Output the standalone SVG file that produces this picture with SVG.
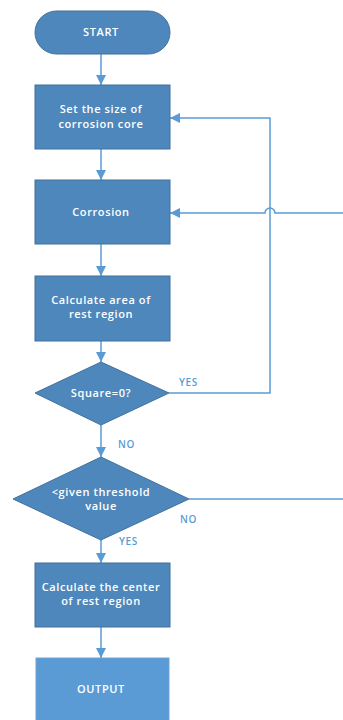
<svg xmlns="http://www.w3.org/2000/svg" width="343" height="720" viewBox="0 0 343 720">
<defs>
<marker id="arr" viewBox="0 0 10 10" refX="10" refY="5" markerWidth="10" markerHeight="10" markerUnits="userSpaceOnUse" orient="auto">
<path d="M0,0 L10,5 L0,10 z" fill="#5B9BD5"/>
</marker>
</defs>
<style>
.n{fill:#4E87BC;stroke:#41719C;stroke-width:1}
.o{fill:#5B9BD5;stroke:#6FA5D8;stroke-width:1}
.t{fill:#fff;font-family:"Open Sans","Noto Sans",sans-serif;font-size:11px;font-weight:600;letter-spacing:0.6px;text-anchor:middle}
.l{fill:#5B9BD5;font-family:"Open Sans","Noto Sans",sans-serif;font-size:10px;font-weight:600;letter-spacing:0.6px}
.c{fill:none;stroke:#5B9BD5;stroke-width:1.5}
</style>
<rect width="343" height="720" fill="#fff"/>
<g id="connectors">
<path class="c" d="M101,54 V85" marker-end="url(#arr)"/>
<path class="c" d="M101,149 V180" marker-end="url(#arr)"/>
<path class="c" d="M101,244 V276" marker-end="url(#arr)"/>
<path class="c" d="M101,341 V362" marker-end="url(#arr)"/>
<path class="c" d="M101,425 V457" marker-end="url(#arr)"/>
<path class="c" d="M101,540 V563" marker-end="url(#arr)"/>
<path class="c" d="M101,627 V658" marker-end="url(#arr)"/>
<path class="c" d="M169,393 H270 V118 H170" marker-end="url(#arr)"/>
<path class="c" d="M343,213 H275 A5,5 0 0 0 265,213 H170" marker-end="url(#arr)"/>
<path class="c" d="M189,499 H343"/>
<text class="l" x="179" y="386">YES</text>
<text class="l" x="118" y="448">NO</text>
<text class="l" x="180" y="523">NO</text>
<text class="l" x="119" y="545">YES</text>
</g>
<g id="start">
<rect class="n" x="35" y="11" width="135" height="43" rx="21.5"/>
<text class="t" x="101" y="36">START</text>
</g>
<g id="setsize">
<rect class="n" x="35" y="85" width="135" height="64"/>
<text class="t" x="101" y="113">Set the size of</text>
<text class="t" x="101" y="128">corrosion core</text>
</g>
<g id="corrosion">
<rect class="n" x="35" y="180" width="135" height="64"/>
<text class="t" x="101" y="216">Corrosion</text>
</g>
<g id="area">
<rect class="n" x="35" y="276" width="135" height="65"/>
<text class="t" x="101" y="304">Calculate area of</text>
<text class="t" x="101" y="318">rest region</text>
</g>
<g id="square">
<polygon class="n" points="101,362 169,393 101,425 35,393"/>
<text class="t" x="101" y="397">Square=0?</text>
</g>
<g id="threshold">
<polygon class="n" points="101,457 189,499 101,540 13,499"/>
<text class="t" x="101" y="496">&lt;given threshold</text>
<text class="t" x="101" y="510">value</text>
</g>
<g id="center">
<rect class="n" x="35" y="563" width="135" height="64"/>
<text class="t" x="101" y="591">Calculate the center</text>
<text class="t" x="101" y="605">of rest region</text>
</g>
<g id="output">
<rect class="o" x="36" y="658" width="133" height="70"/>
<text class="t" x="101" y="693">OUTPUT</text>
</g>
</svg>
